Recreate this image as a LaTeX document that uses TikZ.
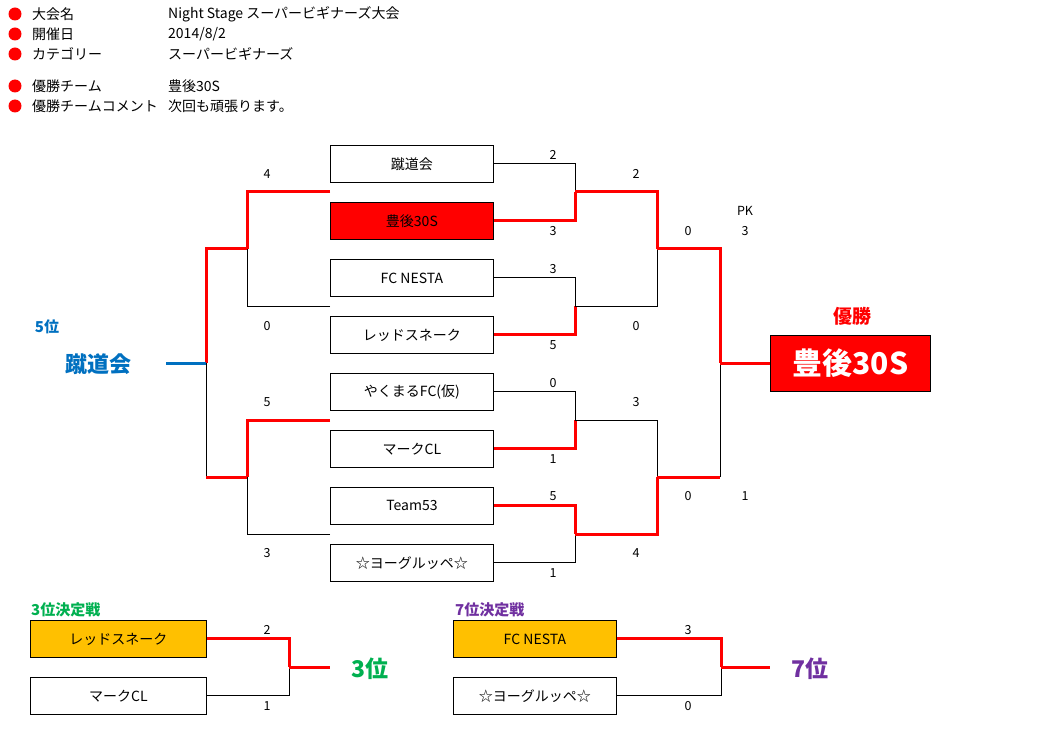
\documentclass[tikz,border=0pt]{standalone}
\usepackage{fontspec}
\setmainfont{Noto Sans CJK JP}
\usetikzlibrary{backgrounds}

\definecolor{winred}{HTML}{FF0000}
\definecolor{fifthblue}{HTML}{0070C0}
\definecolor{thirdgreen}{HTML}{00B050}
\definecolor{seventhpurple}{HTML}{7030A0}
\definecolor{placeorange}{HTML}{FFC000}

\begin{document}
\begin{tikzpicture}[x=1pt,y=-1pt,font=\fontsize{14}{16}\selectfont,
  team/.style={draw,line width=0.8pt,minimum width=163pt,minimum height=37pt,inner sep=0pt,anchor=north west},
  score/.style={font=\fontsize{12.5}{14}\selectfont,inner sep=0pt},
  info/.style={anchor=west,inner sep=0pt},
  bullet/.style={circle,fill=winred,minimum size=13pt,inner sep=0pt},
  lost/.style={line width=1pt},
  won/.style={draw=winred,line width=3pt},
  bigtext/.style={font=\bfseries\fontsize{#1}{#1}\selectfont,inner sep=0pt}]
\useasboundingbox (0,0) rectangle (1055,738);

% tournament info
\node[bullet] (b1) at (15,14) {};
\node[bullet] (b2) at (15,34) {};
\node[bullet] (b3) at (15,54) {};
\node[bullet] (b4) at (15,86) {};
\node[bullet] (b5) at (15,106) {};
\node[info] (k1) at (32,14) {大会名};
\node[info] (k2) at (32,34) {開催日};
\node[info] (k3) at (32,54) {カテゴリー};
\node[info] (k4) at (32,86) {優勝チーム};
\node[info] (k5) at (32,106) {優勝チームコメント};
\node[info] (v1) at (168,14) {Night Stage スーパービギナーズ大会};
\node[info] (v2) at (168,34) {2014/8/2};
\node[info] (v3) at (168,54) {スーパービギナーズ};
\node[info] (v4) at (168,86) {豊後30S};
\node[info] (v5) at (168,106) {次回も頑張ります。};

% teams
\node[team] (t1) at (330,145) {蹴道会};
\node[team,fill=winred] (t2) at (330,202) {豊後30S};
\node[team] (t3) at (330,259) {FC NESTA};
\node[team] (t4) at (330,316) {レッドスネーク};
\node[team] (t5) at (330,373) {やくまるFC(仮)};
\node[team] (t6) at (330,430) {マークCL};
\node[team] (t7) at (330,487) {Team53};
\node[team] (t8) at (330,544) {☆ヨーグルッペ☆};

% junctions
\coordinate (m1) at (575,192);
\coordinate (m2) at (575,306);
\coordinate (m3) at (575,420);
\coordinate (m4) at (575,534);
\coordinate (q1) at (657,249);
\coordinate (q2) at (657,477);
\coordinate (f) at (720,363);
\coordinate (l1) at (330,192);
\coordinate (l2) at (330,306);
\coordinate (l3) at (330,420);
\coordinate (l4) at (330,534);
\coordinate (lq1) at (247,249);
\coordinate (lq2) at (247,477);
\coordinate (lf) at (206,363);
\coordinate (lb) at (166,363);

% champion
\node[draw,fill=winred,line width=0.8pt,minimum width=160pt,minimum height=56pt,anchor=west,inner sep=0pt] (champ) at (770,363) {};
\node[bigtext=30,text=white] (champname) at (champ) {豊後30S};
\node[bigtext=19,text=winred] (champlabel) at (852,316) {優勝};

% right side, first round
\draw[lost] (t1.east) -| (m1);
\draw[won] (t2.east) -| (m1);
\draw[lost] (t3.east) -| (m2);
\draw[won] (t4.east) -| (m2);
\draw[lost] (t5.east) -| (m3);
\draw[won] (t6.east) -| (m3);
\draw[lost] (t8.east) -| (m4);
\draw[won] (t7.east) -| (m4);

% semi finals and final
\draw[lost] (m2) -| (q1);
\draw[won] (m1) -| (q1);
\draw[lost] (m3) -| (q2);
\draw[won] (m4) -| (q2);
\draw[lost] (q2 -| f) -- (f);
\draw[won] (q2) -- (q2 -| f);
\draw[won] (q1) -| (f);
\draw[won] (f) -- (champ.west);

% left side (5th place)
\draw[lost] (l2) -| (lq1);
\draw[won] (l1) -| (lq1);
\draw[lost] (l4) -| (lq2);
\draw[won] (l3) -| (lq2);
\draw[lost] (lq2 -| lf) -- (lf);
\draw[won] (lq2) -- (lq2 -| lf);
\draw[won] (lq1) -| (lf);
\draw[draw=fifthblue,line width=3pt] (lf) -- (lb);
\node[bigtext=15,text=fifthblue] (fifthrank) at (47,327) {5位};
\node[bigtext=22,text=fifthblue] (fifthteam) at (98,364) {蹴道会};

% scores
\node[score] (s1) at (553,155) {2};
\node[score] (s2) at (553,231) {3};
\node[score] (s3) at (553,269) {3};
\node[score] (s4) at (553,345) {5};
\node[score] (s5) at (553,383) {0};
\node[score] (s6) at (553,459) {1};
\node[score] (s7) at (553,496) {5};
\node[score] (s8) at (553,573) {1};
\node[score] (s9) at (636,174) {2};
\node[score] (s10) at (636,326) {0};
\node[score] (s11) at (636,402) {3};
\node[score] (s12) at (636,553) {4};
\node[score] (s13) at (688,231) {0};
\node[score] (s14) at (688,496) {0};
\node[score] (pk) at (745,211) {PK};
\node[score] (s15) at (745,231) {3};
\node[score] (s16) at (745,496) {1};
\node[score] (s17) at (267,174) {4};
\node[score] (s18) at (267,326) {0};
\node[score] (s19) at (267,402) {5};
\node[score] (s20) at (267,553) {3};

% 3rd place match
\node[bigtext=15,text=thirdgreen,anchor=west] (p3title) at (31,610) {3位決定戦};
\node[team,minimum width=176pt,fill=placeorange] (p3a) at (30,620) {レッドスネーク};
\node[team,minimum width=176pt] (p3b) at (30,677) {マークCL};
\coordinate (p3m) at (289,667);
\coordinate (p3e) at (330,667);
\draw[lost] (p3b.east) -| (p3m);
\draw[won] (p3a.east) -| (p3m);
\draw[won] (p3m) -- (p3e);
\node[score] (s21) at (267,630) {2};
\node[score] (s22) at (267,706) {1};
\node[bigtext=23,text=thirdgreen] (p3rank) at (370,669) {3位};

% 7th place match
\node[bigtext=15,text=seventhpurple,anchor=west] (p7title) at (455,610) {7位決定戦};
\node[team,fill=placeorange] (p7a) at (453,620) {FC NESTA};
\node[team] (p7b) at (453,677) {☆ヨーグルッペ☆};
\coordinate (p7m) at (721,667);
\coordinate (p7e) at (770,667);
\draw[lost] (p7b.east) -| (p7m);
\draw[won] (p7a.east) -| (p7m);
\draw[won] (p7m) -- (p7e);
\node[score] (s23) at (688,630) {3};
\node[score] (s24) at (688,706) {0};
\node[bigtext=23,text=seventhpurple] (p7rank) at (810,669) {7位};
\end{tikzpicture}
\end{document}
